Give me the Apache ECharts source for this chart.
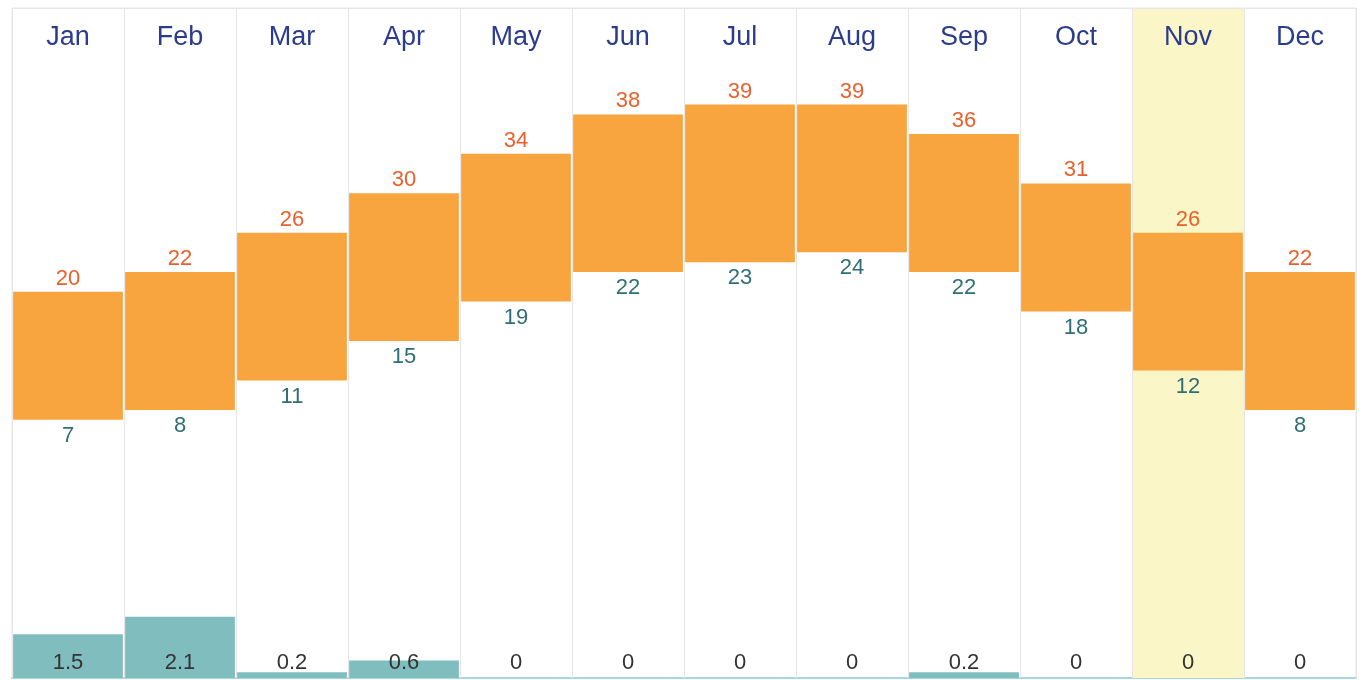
<!DOCTYPE html>
<html>
<head>
<meta charset="utf-8">
<title>Monthly climate</title>
<script src="https://cdn.jsdelivr.net/npm/echarts@6/dist/echarts.min.js"></script>
<style>
  html, body { margin: 0; padding: 0; background: #ffffff; }
  #chart { width: 1362px; height: 680px; }
</style>
</head>
<body>
<div id="chart"></div>
<script>
// Monthly climate: average high / low temperature (°C) and rainfall
const months = ['Jan', 'Feb', 'Mar', 'Apr', 'May', 'Jun', 'Jul', 'Aug', 'Sep', 'Oct', 'Nov', 'Dec'];
const highTemps = [20, 22, 26, 30, 34, 38, 39, 39, 36, 31, 26, 22];
const lowTemps = [7, 8, 11, 15, 19, 22, 23, 24, 22, 18, 12, 8];
const rainfall = [1.5, 2.1, 0.2, 0.6, 0, 0, 0, 0, 0.2, 0, 0, 0];
const highlightMonth = 'Nov';

const FONT = '"Liberation Sans", Arial, Helvetica, sans-serif';

// Height of each bar = spread between the monthly low and high
const tempSpread = highTemps.map((h, i) => h - lowTemps[i]);
const highlightData = months.map(m => (m === highlightMonth ? 1 : '-'));

const chart = echarts.init(document.getElementById('chart'), null, { renderer: 'canvas' });

chart.setOption({
  animation: false,
  backgroundColor: '#ffffff',
  grid: {
    left: 12, right: 6, top: 8, bottom: 2,
    show: true, borderColor: '#e6e6e6', borderWidth: 1, backgroundColor: 'transparent'
  },
  xAxis: [
    {
      type: 'category', data: months, position: 'top', z: 5,
      axisLine: { show: true, onZero: false, lineStyle: { color: '#e6e6e6' } },
      axisTick: { show: false },
      axisLabel: { inside: true, margin: 16, color: '#2b3b8e', fontSize: 27, fontFamily: FONT },
      splitLine: { show: true, lineStyle: { color: '#e6e6e6', width: 1 } }
    },
    {
      type: 'category', data: months, position: 'bottom',
      axisLine: { show: true, onZero: false, lineStyle: { color: '#a9d6e2', width: 2 } },
      axisTick: { show: false }, axisLabel: { show: false }, splitLine: { show: false }
    },
    {
      type: 'category', data: months, show: false,
      axisLine: { onZero: false }
    }
  ],
  yAxis: [
    { type: 'value', min: -19.2, max: 48.8, show: false, splitLine: { show: false } },
    { type: 'value', min: 0, max: 23, show: false, splitLine: { show: false } },
    { type: 'value', min: 0, max: 1, show: false, splitLine: { show: false } }
  ],
  series: [
    {
      name: 'highlight', type: 'bar', xAxisIndex: 2, yAxisIndex: 2, z: 0, silent: true,
      barCategoryGap: 0, data: highlightData,
      itemStyle: { color: '#faf6c8' }
    },
    {
      name: 'Rainfall', type: 'bar', xAxisIndex: 1, yAxisIndex: 1, z: 2,
      barCategoryGap: '2%', data: rainfall,
      itemStyle: { color: '#80bdbe' },
      label: {
        show: true, position: 'insideBottom', distance: 4,
        color: '#333333', fontSize: 22, fontFamily: FONT,
        formatter: p => String(rainfall[p.dataIndex])
      }
    },
    {
      name: 'Low', type: 'bar', xAxisIndex: 0, yAxisIndex: 0, stack: 'temp', z: 3,
      barCategoryGap: '2%', data: lowTemps,
      itemStyle: { color: 'rgba(0,0,0,0)' },
      label: {
        show: true, position: 'insideTop', distance: 5,
        color: '#2f6e74', fontSize: 22, fontFamily: FONT,
        formatter: p => String(lowTemps[p.dataIndex])
      }
    },
    {
      name: 'High', type: 'bar', xAxisIndex: 0, yAxisIndex: 0, stack: 'temp', z: 3,
      barCategoryGap: '2%', data: tempSpread,
      itemStyle: { color: '#f8a540' },
      label: {
        show: true, position: 'top', distance: 2,
        color: '#e8612c', fontSize: 22, fontFamily: FONT,
        formatter: p => String(highTemps[p.dataIndex])
      }
    }
  ]
});
</script>
</body>
</html>
